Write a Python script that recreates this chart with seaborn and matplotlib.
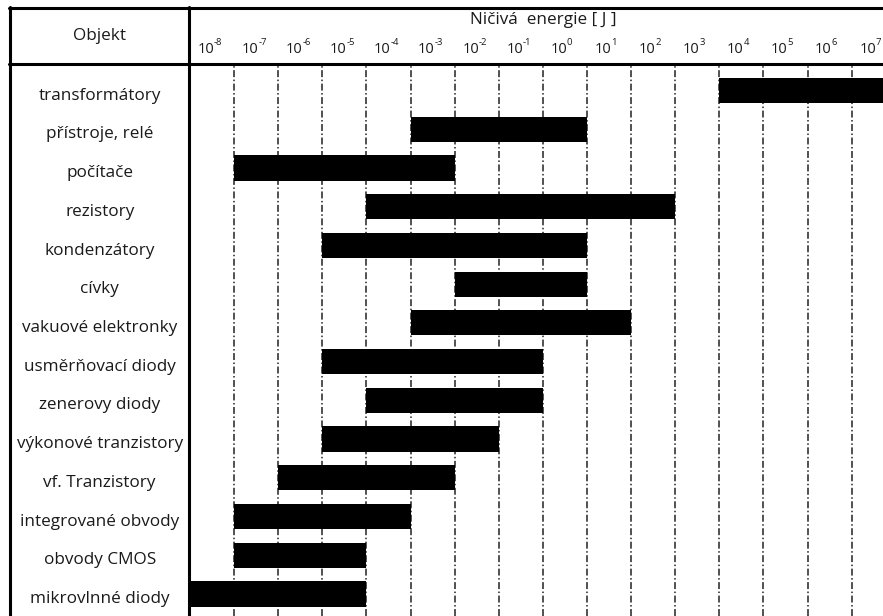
import matplotlib
matplotlib.use("Agg")
import matplotlib.pyplot as plt
from matplotlib.lines import Line2D
from matplotlib.transforms import blended_transform_factory
import seaborn as sns
import pandas as pd

# Destructive energy ranges per component type, as decade exponents of J
objects = ["transformátory", "přístroje, relé", "počítače", "rezistory",
           "kondenzátory", "cívky", "vakuové elektronky", "usměrňovací diody",
           "zenerovy diody", "výkonové tranzistory", "vf. Tranzistory",
           "integrované obvody", "obvody CMOS", "mikrovlnné diody"]
low_exp = [4, -3, -7, -4, -5, -2, -3, -5, -4, -5, -6, -7, -7, -8]
high_exp = [7, 0, -3, 2, 0, 0, 1, -1, -1, -2, -3, -4, -5, -5]
decades = list(range(-8, 8))

col_title = "Objekt"
axis_title = "Ničivá  energie [ J ]"

df = pd.DataFrame({
    "Objekt": objects,
    "start": low_exp,
    "span": [h - l + 1 for l, h in zip(low_exp, high_exp)],
})

sns.set_theme(style="white")
plt.rcParams["font.family"] = ["Open Sans", "DejaVu Sans"]
plt.rcParams["lines.scale_dashes"] = False

TXT = "#1a1a1a"
FS = 12.3

W, H = 883, 616
fig = plt.figure(figsize=(W / 100, H / 100), dpi=100)
fig.patch.set_facecolor("white")

left_px, top_px = 190, 65
ax = fig.add_axes([left_px / W, 0, (W - left_px) / W, (H - top_px) / H])

sns.barplot(data=df, x="span", y="Objekt", orient="h", order=objects,
            color="black", saturation=1, width=0.65, errorbar=None,
            left=df["start"].to_numpy(), linewidth=0, ax=ax, zorder=3)

ax.set_xlim(-8, 7.71)
ax.set_ylim(13.57, -0.66)
ax.set_xlabel("")
ax.set_ylabel("")
for s in ax.spines.values():
    s.set_visible(False)

# decade boundaries as dash-dot grid lines
ax.set_xticks(range(-7, 8))
ax.tick_params(axis="x", which="major", length=0, labelbottom=False, labeltop=False)
ax.grid(axis="x", which="major", color="#333333", linewidth=1.2,
        linestyle=(0, (5, 1.8, 1.1, 1.8)), zorder=1)
ax.grid(axis="y", visible=False)
ax.set_axisbelow(True)

# decade labels in the header cells: "10" with a small raised exponent
hdr = blended_transform_factory(ax.transData, fig.transFigure)
for k in decades:
    ax.text(k + 0.55, 1 - 53 / H, "10", transform=hdr, ha="right",
            va="baseline", fontsize=10.5, color=TXT, clip_on=False)
    ax.text(k + 0.545, 1 - 45 / H, f"-{abs(k)}" if k < 0 else f"{k}",
            transform=hdr, ha="left", va="baseline", fontsize=6.8,
            color=TXT, clip_on=False)

# component names centered in the left column
ax.set_yticks([i + 0.08 for i in range(len(objects))], labels=objects)
ax.tick_params(axis="y", length=0, pad=65, labelsize=FS, labelcolor=TXT)
for t in ax.get_yticklabels():
    t.set_ha("center")

fig.text(99 / W, 1 - 36 / H, col_title, ha="center", va="center",
         fontsize=FS, color=TXT)
fig.text(543 / W, 1 - 20 / H, axis_title, ha="center", va="center",
         fontsize=FS, color=TXT)


def hline(y, x0, x1, lw=2.2):
    fig.add_artist(Line2D([x0 / W, x1 / W], [1 - y / H, 1 - y / H],
                          transform=fig.transFigure, color="black", lw=lw))


def vline(x, y0, y1, lw=2.2):
    fig.add_artist(Line2D([x / W, x / W], [1 - y0 / H, 1 - y1 / H],
                          transform=fig.transFigure, color="black", lw=lw))


hline(8, 9, W)
hline(64, 9, W)
vline(10, 7, H)
vline(188.5, 7, H)

fig.savefig("out.png", dpi=100, facecolor="white")
